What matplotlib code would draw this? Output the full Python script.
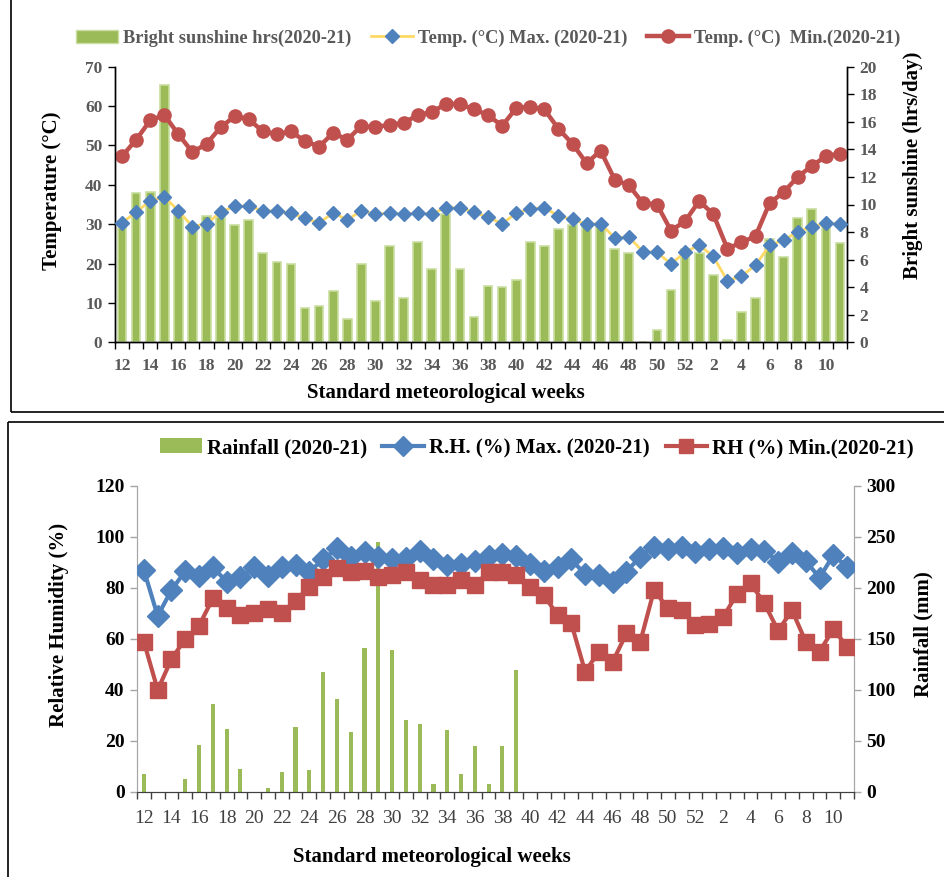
import numpy as np
import matplotlib
matplotlib.use("Agg")
import matplotlib.pyplot as plt
from matplotlib.patches import Rectangle
from matplotlib.lines import Line2D

weeks = list(range(12, 53)) + list(range(1, 12))

sunshine = [8.3, 10.8, 10.9, 18.7, 9.3, 8.3, 9.2, 9.1, 8.5, 8.9,
            6.5, 5.8, 5.7, 2.5, 2.6, 3.7, 1.7, 5.7, 3.0, 7.0,
            3.2, 7.3, 5.3, 9.3, 5.3, 1.8, 4.1, 4.0, 4.5, 7.3,
            7.0, 8.2, 8.5, 8.4, 8.5, 6.8, 6.5, 0.0, 0.9, 3.8,
            6.8, 6.5, 4.9, 0.2, 2.2, 3.2, 7.5, 6.2, 9.0, 9.7,
            8.6, 7.2]
tmax = [30.4, 33.0, 36.0, 37.0, 33.4, 29.4, 30.1, 33.0, 34.6, 34.6,
        33.4, 33.4, 32.8, 31.5, 30.3, 32.9, 31.1, 33.4, 32.6, 32.8,
        32.6, 32.8, 32.6, 34.2, 34.2, 33.0, 31.8, 30.1, 32.8, 33.9,
        34.2, 32.1, 31.2, 30.0, 30.1, 26.5, 26.8, 23.0, 22.9, 19.9,
        22.9, 24.7, 21.8, 15.6, 16.8, 19.6, 24.6, 26.0, 28.0, 29.4,
        30.2, 30.1]
tmin = [13.5, 14.7, 16.1, 16.5, 15.1, 13.8, 14.4, 15.6, 16.4, 16.2,
        15.3, 15.1, 15.3, 14.6, 14.2, 15.2, 14.7, 15.7, 15.6, 15.8,
        15.9, 16.5, 16.7, 17.3, 17.3, 16.9, 16.5, 15.7, 17.0, 17.1,
        16.9, 15.5, 14.4, 13.0, 13.9, 11.8, 11.4, 10.1, 10.0, 8.1,
        8.8, 10.25, 9.3, 6.8, 7.25, 7.7, 10.1, 10.9, 12.0, 12.8,
        13.5, 13.7]

rainfall = [17.3, 0, 0, 12.4, 45.8, 86, 61.4, 22.2, 0, 3.3,
            19, 63.4, 20.9, 117.3, 90.8, 58.5, 141.2, 244.8, 139.2, 70.3,
            66.3, 7.2, 60.5, 17, 44.8, 7.2, 44.8, 119.6, 0, 0,
            0, 0, 0, 0, 0, 0, 0, 0, 0, 0,
            0, 0, 0, 0, 0, 0, 0, 0, 0, 0,
            0, 0]
rhmax = [86.9, 68.9, 79.1, 86.5, 84.6, 88.0, 82.4, 84.3, 88.0, 84.7,
         88.0, 88.9, 86.3, 91.1, 95.4, 92.2, 94.1, 91.9, 91.1, 91.5,
         94.4, 91.1, 88.9, 89.3, 90.5, 92.4, 93.2, 92.4, 89.2, 86.7,
         88.2, 91.1, 85.2, 85.0, 82.1, 86.3, 92.2, 96.1, 95.2, 96.1,
         94.1, 95.0, 95.4, 93.7, 95.2, 94.5, 90.2, 93.5, 90.5, 83.9,
         92.8, 88.2]
rhmin = [58.8, 39.9, 52.0, 59.9, 65.1, 75.8, 71.9, 69.3, 69.9, 71.8,
         69.9, 74.9, 80.4, 84.3, 87.8, 86.3, 86.7, 84.1, 85.0, 86.3,
         83.0, 81.0, 81.0, 83.0, 81.0, 86.3, 86.3, 85.0, 80.4, 77.1,
         69.3, 66.0, 47.1, 54.9, 51.0, 62.1, 58.8, 79.1, 71.9, 71.2,
         65.4, 65.8, 68.4, 77.4, 81.7, 73.9, 63.1, 71.2, 58.8, 54.9,
         63.8, 56.9]

W, H = 945, 877
fig = plt.figure(figsize=(W / 100, H / 100), dpi=100)
plt.rcParams['font.family'] = ['Liberation Serif', 'DejaVu Serif']

GREEN = '#9BBB59'
BLUE = '#4F81BD'
RED = '#C0504D'
GRAY = '#595959'

def fx(px):
    return px / W

def fy(py):
    return 1 - py / H

# frames
fig.patches.append(Rectangle((fx(10.5), fy(412)), 1.05, 1.05, transform=fig.transFigure,
                             fill=False, edgecolor='black', linewidth=1.2))
fig.patches.append(Rectangle((fx(8.5), fy(421.7)), 1.05, -1.05, transform=fig.transFigure,
                             fill=False, edgecolor='black', linewidth=1.2))

x = np.arange(len(weeks))
lab_idx = np.arange(0, len(weeks), 2)
lab_txt = [str(weeks[i]) for i in lab_idx]

# ---------------- Top chart ----------------
ax1 = fig.add_axes([fx(115), fy(342.3), fx(847 - 115), (342.3 - 66.7) / H])
ax1r = ax1.twinx()
ax1.set_zorder(ax1r.get_zorder() + 1)
ax1.patch.set_visible(False)

ax1r.bar(x, sunshine, width=0.62, color=GREEN, edgecolor='#C9DE9F', linewidth=1.2, zorder=1)
ax1r.plot(x, tmin, color=RED, linewidth=3.2, marker='o', markersize=9.5, zorder=3)
ax1.plot(x, tmax, color='#FFD966', linewidth=2.0, marker='D', markersize=7.5,
         markerfacecolor=BLUE, markeredgecolor=BLUE, zorder=3)

ax1.set_xlim(-0.5, len(weeks) - 0.5)
ax1.set_ylim(0, 70)
ax1r.set_ylim(0, 20)
ax1.set_yticks(np.arange(0, 71, 10))
ax1r.set_yticks(np.arange(0, 21, 2))
ax1.set_xticks(np.arange(-0.5, len(weeks), 1))
ax1.set_xticklabels([])
ax1.set_xticks(lab_idx, minor=True)
ax1.set_xticklabels(lab_txt, minor=True)
ax1.tick_params(axis='x', which='major', direction='out', length=5, width=1, color='black')
ax1.tick_params(axis='x', which='minor', length=0, pad=11, labelsize=12.5, labelcolor=GRAY)
ax1.tick_params(axis='y', direction='out', length=5, width=1, pad=4, labelsize=12.5, labelcolor=GRAY)
ax1r.tick_params(axis='y', direction='out', length=5, width=1, pad=4, labelsize=12.5, labelcolor=GRAY)
for t in ax1.get_xticklabels(minor=True) + ax1.get_yticklabels() + ax1r.get_yticklabels():
    t.set_fontweight('bold')
for a in (ax1, ax1r):
    a.spines['top'].set_visible(False)
    for s in ('left', 'right', 'bottom'):
        a.spines[s].set_color('black')
        a.spines[s].set_linewidth(1.0)

fig.text(fx(52), fy(191), 'Temperature (°C)', rotation=90, ha='center', va='center',
         fontsize=15, fontweight='bold')
fig.text(fx(913), fy(165), 'Bright sunshine (hrs/day)', rotation=90, ha='center', va='center',
         fontsize=15, fontweight='bold')
fig.text(fx(446), fy(393), 'Standard meteorological weeks', ha='center', va='center',
         fontsize=15, fontweight='bold')

h1 = [Rectangle((0, 0), 1, 1, facecolor=GREEN, edgecolor='#C9DE9F'),
      Line2D([], [], color='#FFD966', linewidth=2, marker='D', markersize=7.5,
             markerfacecolor=BLUE, markeredgecolor=BLUE),
      Line2D([], [], color=RED, linewidth=3.2, marker='o', markersize=9.5)]
l1 = ['Bright sunshine hrs(2020-21)', 'Temp. (°C) Max. (2020-21)', 'Temp. (°C)  Min.(2020-21)']
leg1 = fig.legend(h1, l1, loc='center', bbox_to_anchor=(fx(488), fy(38)), ncol=3, frameon=False,
                  handlelength=2.3, handletextpad=0.25, columnspacing=1.1,
                  prop={'size': 13.2, 'weight': 'bold'})
for t in leg1.get_texts():
    t.set_color(GRAY)

# ---------------- Bottom chart ----------------
ax2 = fig.add_axes([fx(137), fy(791.7), fx(854 - 137), (791.7 - 485.7) / H])
ax2r = ax2.twinx()
ax2.set_zorder(ax2r.get_zorder() + 1)
ax2.patch.set_visible(False)

ax2r.bar(x, rainfall, width=0.3, color=GREEN, zorder=1)
ax2.plot(x, rhmax, color=BLUE, linewidth=3, marker='D', markersize=11, zorder=3)
ax2.plot(x, rhmin, color=RED, linewidth=3, marker='s', markersize=11.5, zorder=3)

ax2.set_xlim(-0.5, len(weeks) - 0.5)
ax2.set_ylim(0, 120)
ax2r.set_ylim(0, 300)
ax2.set_yticks(np.arange(0, 121, 20))
ax2r.set_yticks(np.arange(0, 301, 50))
ax2.set_xticks(np.arange(-0.5, len(weeks), 1))
ax2.set_xticklabels([])
ax2.set_xticks(lab_idx, minor=True)
ax2.set_xticklabels(lab_txt, minor=True)
ax2.tick_params(axis='x', which='major', direction='out', length=5, width=1, color='#404040')
ax2.tick_params(axis='x', which='minor', length=0, pad=13, labelsize=14, labelcolor='#404040')
ax2.tick_params(axis='y', direction='out', length=5, width=1, color='#A6A6A6', pad=4, labelsize=14)
ax2r.tick_params(axis='y', direction='out', length=5, width=1, color='#A6A6A6', pad=4, labelsize=14)
for t in ax2.get_yticklabels() + ax2r.get_yticklabels():
    t.set_fontweight('bold')
for a in (ax2, ax2r):
    a.spines['top'].set_visible(False)
    a.spines['left'].set_color('#A6A6A6')
    a.spines['right'].set_color('#A6A6A6')
    a.spines['bottom'].set_color('#404040')

fig.text(fx(59), fy(625), 'Relative Humidity (%)', rotation=90, ha='center', va='center',
         fontsize=15, fontweight='bold')
fig.text(fx(923), fy(634), 'Rainfall (mm)', rotation=90, ha='center', va='center',
         fontsize=15, fontweight='bold')
fig.text(fx(432), fy(857), 'Standard meteorological weeks', ha='center', va='center',
         fontsize=15, fontweight='bold')

h2 = [Rectangle((0, 0), 1, 1, facecolor=GREEN),
      Line2D([], [], color=BLUE, linewidth=3, marker='D', markersize=10),
      Line2D([], [], color=RED, linewidth=3, marker='s', markersize=10)]
l2 = ['Rainfall (2020-21)', 'R.H. (%) Max. (2020-21)', 'RH (%) Min.(2020-21)']
fig.legend(h2, l2, loc='center', bbox_to_anchor=(fx(537), fy(448)), ncol=3, frameon=False,
           handlelength=2.0, handletextpad=0.25, columnspacing=0.75,
           prop={'size': 15, 'weight': 'bold'})

fig.savefig('out.png', dpi=100)
